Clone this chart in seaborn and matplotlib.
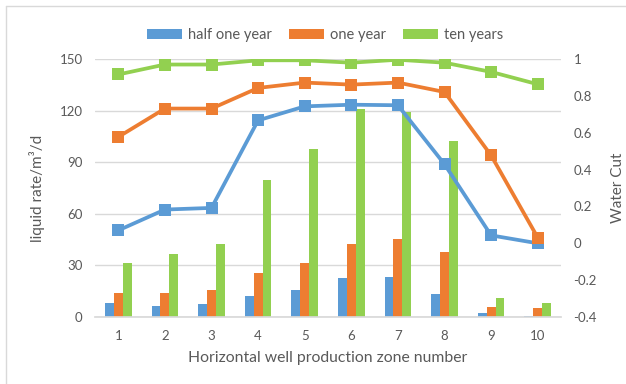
import matplotlib
matplotlib.use("Agg")
import matplotlib.pyplot as plt
import seaborn as sns
import pandas as pd
import numpy as np
from matplotlib.patches import Patch

zones = ["1", "2", "3", "4", "5", "6", "7", "8", "9", "10"]
series_names = ["half one year", "one year", "ten years"]

rate_half = [8.4, 6.4, 7.8, 12.4, 15.5, 22.7, 23.3, 13.6, 2.3, 0.4]
rate_one = [14.2, 14.2, 15.5, 25.6, 31.6, 42.3, 45.4, 37.6, 5.8, 5.2]
rate_ten = [31.6, 36.5, 42.3, 79.5, 97.5, 121.2, 119.0, 102.3, 11.3, 8.1]

wc_half = [0.07, 0.183, 0.192, 0.667, 0.743, 0.752, 0.749, 0.429, 0.043, 0.0]
wc_one = [0.577, 0.731, 0.731, 0.843, 0.872, 0.861, 0.872, 0.821, 0.477, 0.031]
wc_ten = [0.916, 0.97, 0.97, 0.993, 0.993, 0.98, 0.996, 0.98, 0.93, 0.863]

colors = ["#5B9BD5", "#ED7D31", "#92D050"]
text_color = "#595959"

sns.set_theme(style="white")
plt.rcParams['font.family'] = ['Lato', 'DejaVu Sans']

bars = pd.DataFrame({
    "zone": zones * 3,
    "series": np.repeat(series_names, len(zones)),
    "rate": rate_half + rate_one + rate_ten,
})
pos = list(range(len(zones)))
lines = pd.DataFrame({
    "pos": pos * 3,
    "series": np.repeat(series_names, len(zones)),
    "wc": wc_half + wc_one + wc_ten,
})

fig = plt.figure(figsize=(6.26, 3.84), dpi=100)
ax = fig.add_axes([95/626, 1-317/384, (561-95)/626, (317-59)/384])

sns.barplot(data=bars, x="zone", y="rate", hue="series", hue_order=series_names,
            palette=colors, width=0.57, ax=ax, legend=False, saturation=1,
            linewidth=0)
ax.set_ylim(0, 150)
ax.set_yticks([0, 30, 60, 90, 120, 150])
ax.set_xlim(-0.5, 9.5)
ax.yaxis.grid(True, color="#D9D9D9", linewidth=1)
ax.set_axisbelow(True)
for s in ["top", "right", "left"]:
    ax.spines[s].set_visible(False)
ax.spines["bottom"].set_color("#D9D9D9")
ax.tick_params(axis="both", length=0, labelsize=9.5, colors=text_color, pad=9)
ax.set_xlabel("Horizontal well production zone number", fontsize=11.3, color=text_color, labelpad=7)
ax.set_ylabel("liquid rate/m³/d", fontsize=11, color=text_color, labelpad=10)

ax2 = ax.twinx()
sns.lineplot(data=lines, x="pos", y="wc", hue="series", hue_order=series_names,
             palette=colors, marker="s", markersize=9, linewidth=2.7,
             markeredgewidth=0, ax=ax2, legend=False)
ax2.set_ylim(-0.4, 1.0)
ax2.set_yticks([-0.4, -0.2, 0, 0.2, 0.4, 0.6, 0.8, 1.0])
ax2.set_yticklabels(["-0.4", "-0.2", "0", "0.2", "0.4", "0.6", "0.8", "1"])
ax2.set_xlim(-0.5, 9.5)
for s in ["top", "right", "left", "bottom"]:
    ax2.spines[s].set_visible(False)
ax2.tick_params(axis="y", length=0, labelsize=9.5, colors=text_color, pad=9)
ax2.set_ylabel("Water Cut", fontsize=11, color=text_color, labelpad=10)
ax2.set_xlabel("")

handles = [Patch(facecolor=c, edgecolor="none") for c in colors]
fig.legend(handles, series_names, loc="center", bbox_to_anchor=(325/626, 1-35/384),
           ncol=3, frameon=False, fontsize=10.5, labelcolor=text_color,
           handlelength=2.4, handleheight=0.7, columnspacing=1.2, handletextpad=0.4)

# figure border (top and left visible)
fig.add_artist(plt.Line2D([6/626, 6/626], [0, 1-6/384], color="#D9D9D9", linewidth=1, transform=fig.transFigure))
fig.add_artist(plt.Line2D([6/626, 1], [1-6/384, 1-6/384], color="#D9D9D9", linewidth=1, transform=fig.transFigure))

fig.savefig("out.png", dpi=100)
